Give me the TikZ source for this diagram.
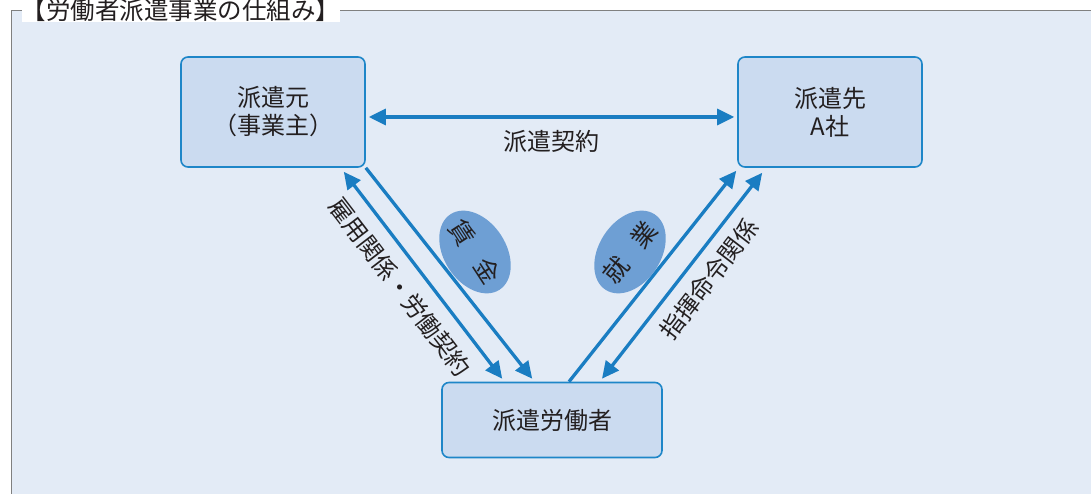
\documentclass[tikz,border=0pt]{standalone}
\usepackage{fontspec}
\setmainfont{Noto Sans CJK JP}
\usetikzlibrary{arrows.meta,calc,shapes.geometric}
\definecolor{bgfill}{HTML}{E3EBF6}
\definecolor{boxfill}{HTML}{CBDBF0}
\definecolor{boxline}{HTML}{1E86C8}
\definecolor{arrowc}{HTML}{1A7DC2}
\definecolor{ellc}{HTML}{6E9FD4}
\definecolor{txt}{HTML}{231F20}
\definecolor{framec}{HTML}{808080}
\tikzset{
  partybox/.style={draw=boxline,line width=1.6pt,fill=boxfill,rounded corners=7pt,
    align=center,text=txt,font=\fontsize{24}{28}\selectfont},
  conn/.style={draw=arrowc,line width=3.3pt,-{Triangle[length=17pt,width=16pt]}},
  conn2/.style={draw=arrowc,line width=3.3pt,{Triangle[length=17pt,width=16pt]}-{Triangle[length=17pt,width=16pt]}},
  lbl/.style={text=txt,font=\fontsize{24}{26}\selectfont,inner sep=0pt},
  ovallbl/.style={text=txt,font=\fontsize{25}{25}\selectfont,inner sep=0pt},
  oval/.style={fill=ellc,ellipse,minimum width=90pt,minimum height=62pt},
}
\begin{document}
\begin{tikzpicture}[x=1pt,y=-1pt]
\useasboundingbox (0,0) rectangle (1091,494);
\fill[bgfill] (11,11) rectangle (1091,494);
\draw[framec,line width=1pt] (11,494) -- (11,11) -- (1091,11);
\fill[white] (22,0) rectangle (340,22);
\node[inner sep=0pt,text=txt,font=\fontsize{24.5}{25}\selectfont] (title) at (181,10) {【労働者派遣事業の仕組み】};

\node[partybox,minimum width=184pt,minimum height=110pt] (moto) at (273,112) {派遣元\\（事業主）};
\node[partybox,minimum width=184pt,minimum height=110pt] (saki) at (830,112) {派遣先\\A社};
\node[partybox,minimum width=220pt,minimum height=75pt] (rodo) at (552,420) {派遣労働者};

\draw[conn2] ([xshift=3pt,yshift=-5pt]moto.east) -- node[lbl,below=12pt] (keiyaku) {派遣契約} ([xshift=-3pt,yshift=-5pt]saki.west);

\draw[conn2] ([xshift=-22pt,yshift=-4pt]moto.south east) -- ([xshift=61pt,yshift=3pt]rodo.north west);
\draw[conn] (moto.south east) -- ([xshift=91pt,yshift=3pt]rodo.north west);
\draw[conn] ([xshift=17pt]rodo.north) -- ([xshift=-1pt,yshift=-3pt]saki.south west);
\draw[conn2] ([xshift=25pt,yshift=-5pt]saki.south west) -- ([xshift=50pt,yshift=3pt]rodo.north);

\node[lbl,rotate=-52.5] (koyo) at (400,287) {雇用関係・労働契約};
\node[lbl,rotate=52.5] (shiki) at (709,279) {指揮命令関係};

\node[oval,rotate=-57] (chin) at (475,252) {};
\node[ovallbl,rotate=-57] (chinl) at (chin.center) {賃\hspace{20pt}金};
\node[oval,rotate=57] (shu) at (630,252) {};
\node[ovallbl,rotate=51] (shul) at (shu.center) {就\hspace{20pt}業};
\end{tikzpicture}
\end{document}
